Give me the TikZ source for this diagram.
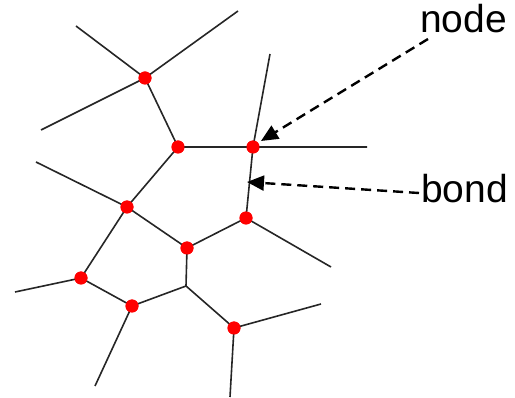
\documentclass[tikz,border=0pt]{standalone}
\usepackage{fontspec}
\setmainfont{Liberation Sans}
\usetikzlibrary{arrows.meta, positioning}

\begin{document}
\begin{tikzpicture}
        [
        x=1pt, y=-1pt,
        pore/.style={circle, fill=red, inner sep=0pt, minimum size=13pt},
        link/.style={line width=1.6pt, black!85},
        pointer/.style={-{Triangle[length=17pt,width=15pt]}, line width=2.4pt, dash pattern=on 10pt off 6pt},
        label/.style={font=\fontsize{39}{42}\selectfont, inner sep=0pt, anchor=base west}
        ]
        \useasboundingbox (0,0) rectangle (515,398);

        % pores
        \node[pore] (a) at (145,78) {};
        \node[pore] (b) at (178,147) {};
        \node[pore] (c) at (253,147) {};
        \node[pore] (d) at (127,207) {};
        \node[pore] (e) at (187,248) {};
        \node[pore] (f) at (246,218) {};
        \node[pore] (g) at (81,278) {};
        \node[pore] (h) at (132,306) {};
        \node[pore] (i) at (234,328) {};
        \coordinate (j) at (186,286);

        % free ends
        \coordinate (a1) at (76,26);
        \coordinate (a2) at (238,11);
        \coordinate (a3) at (41,130);
        \coordinate (c1) at (270,54);
        \coordinate (c2) at (367,147);
        \coordinate (d1) at (36,162);
        \coordinate (f1) at (331,267);
        \coordinate (g1) at (15,292);
        \coordinate (h1) at (95,386);
        \coordinate (i1) at (321,304);
        \coordinate (i2) at (230,397);

        % bonds
        \draw[link] (a1) -- (a.center) -- (a2);
        \draw[link] (a3) -- (a.center) -- (b.center) -- (c.center) -- (c2);
        \draw[link] (c1) -- (c.center) -- (f.center) -- (f1);
        \draw[link] (b.center) -- (d.center) -- (d1);
        \draw[link] (d.center) -- (e.center) -- (f.center);
        \draw[link] (d.center) -- (g.center) -- (g1);
        \draw[link] (g.center) -- (h.center) -- (h1);
        \draw[link] (h.center) -- (j) -- (e.center);
        \draw[link] (j) -- (i.center) -- (i1);
        \draw[link] (i.center) -- (i2);
        \foreach \p in {a,b,c,d,e,f,g,h,i}
            \node[pore] at (\p) {};

        % labels
        \node[label] (nodetext) at (420,33) {node};
        \node[label] (bondtext) at (421,203) {bond};
        \coordinate (nodetip) at (261,141);
        \coordinate (bondtip) at (247,182);
        \draw[pointer] (428,39) -- (nodetip);
        \draw[pointer] (419,193) -- (bondtip);

    \end{tikzpicture}
\end{document}
